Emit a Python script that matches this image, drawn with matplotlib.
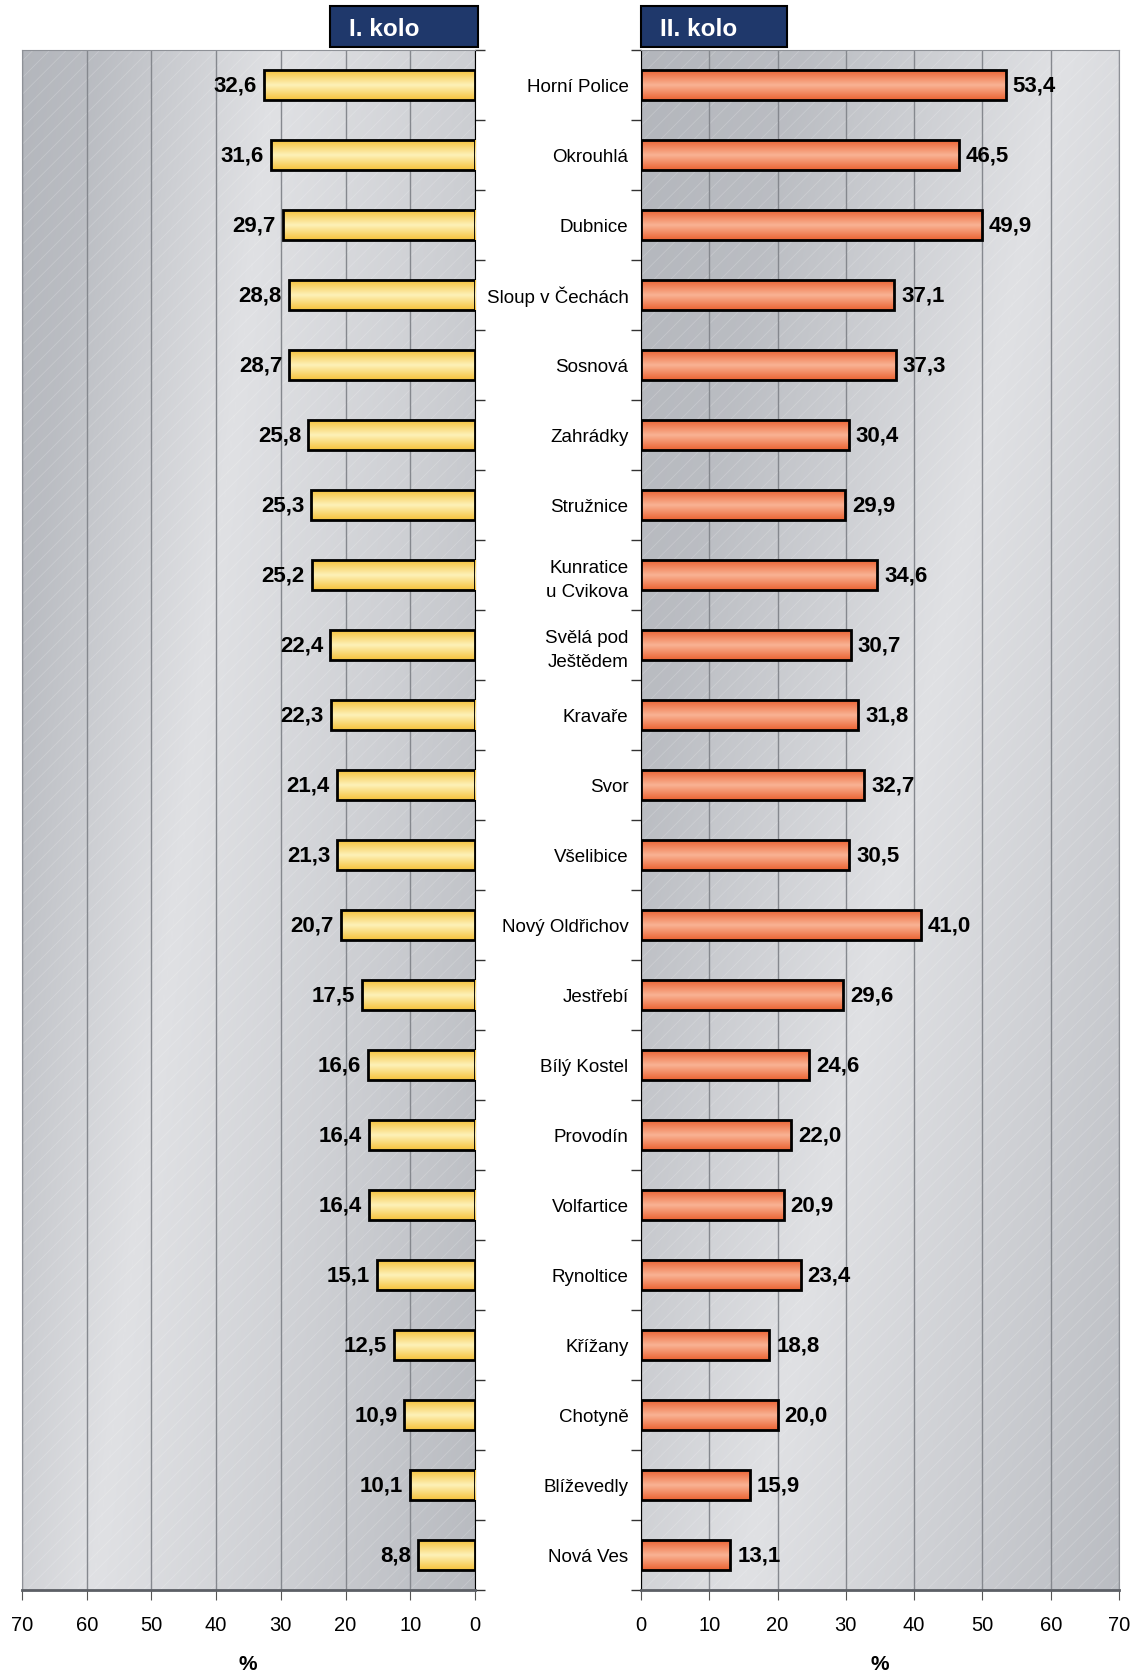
import numpy as np
import matplotlib
matplotlib.use('Agg')
import matplotlib.pyplot as plt
from matplotlib.patches import Rectangle
from matplotlib.colors import LinearSegmentedColormap

plt.rcParams['font.family'] = ['Liberation Sans', 'DejaVu Sans']
plt.rcParams['hatch.linewidth'] = 0.6

# data
obce = ['Horní Police', 'Okrouhlá', 'Dubnice', 'Sloup v Čechách', 'Sosnová',
        'Zahrádky', 'Stružnice', 'Kunratice\nu Cvikova', 'Svělá pod\nJeštědem',
        'Kravaře', 'Svor', 'Všelibice', 'Nový Oldřichov', 'Jestřebí',
        'Bílý Kostel', 'Provodín', 'Volfartice', 'Rynoltice', 'Křížany',
        'Chotyně', 'Blíževedly', 'Nová Ves']
kolo1 = [32.6, 31.6, 29.7, 28.8, 28.7, 25.8, 25.3, 25.2, 22.4, 22.3, 21.4,
         21.3, 20.7, 17.5, 16.6, 16.4, 16.4, 15.1, 12.5, 10.9, 10.1, 8.8]
kolo2 = [53.4, 46.5, 49.9, 37.1, 37.3, 30.4, 29.9, 34.6, 30.7, 31.8, 32.7,
         30.5, 41.0, 29.6, 24.6, 22.0, 20.9, 23.4, 18.8, 20.0, 15.9, 13.1]
osa_x = [0, 10, 20, 30, 40, 50, 60, 70]
nadpisy = ['I. kolo', 'II. kolo']

W, H = 1138, 1676
fig = plt.figure(figsize=(W / 100, H / 100), dpi=100)


def box(x0, y0, x1, y1):
    return [x0 / W, 1 - y1 / H, (x1 - x0) / W, (y1 - y0) / H]


ax1 = fig.add_axes(box(22, 50, 475, 1590))
ax2 = fig.add_axes(box(641, 50, 1119, 1590))

seda = LinearSegmentedColormap.from_list('seda', ['#b1b4ba', '#e0e1e4'])


def pozadi(ax, a, tt, vv):
    bb = ax.get_position()
    w = bb.width * W
    h = bb.height * H
    xx, yy = np.meshgrid(np.linspace(0, w, 300), np.linspace(0, h, 600))
    t = (xx + a * yy) / (w + a * h)
    v = np.interp(t, tt, vv)
    ax.imshow(v, cmap=seda, vmin=0, vmax=1, aspect='auto', extent=(0, 1, 0, 1),
              transform=ax.transAxes, zorder=0, interpolation='bilinear')
    ax.add_patch(Rectangle((0, 0), 1, 1, transform=ax.transAxes, facecolor='none',
                           edgecolor=(1, 1, 1, 0.2), hatch='//', lw=0, zorder=0.2))


def sloupce(ax, vals, c_okraj, c_stred, strana):
    cm = LinearSegmentedColormap.from_list('b', [c_okraj, c_stred, c_okraj])
    grad = np.linspace(0, 1, 60).reshape(-1, 1)
    h = 0.42
    for i, v in enumerate(vals):
        ax.imshow(grad, cmap=cm, aspect='auto', extent=(0, v, i + h / 2, i - h / 2),
                  zorder=3, interpolation='bilinear')
        txt = f'{v:.1f}'.replace('.', ',')
        ax.annotate(txt, xy=(v, i), xytext=(5 * strana, -1), textcoords='offset points',
                    ha='left' if strana > 0 else 'right', va='center',
                    fontsize=16, fontweight='bold', zorder=5)
    ax.barh(range(len(vals)), vals, height=h, facecolor='none',
            edgecolor='black', lw=2, zorder=4)


pozadi(ax1, 0.12, [0, 0.12, 0.4, 0.7, 1], [0.05, 0.2, 1, 0.6, 0.15])
pozadi(ax2, 0.21, [0, 0.2, 0.53, 0.8, 1], [0.05, 0.2, 1, 0.55, 0.2])

sloupce(ax1, kolo1, '#f6c23c', '#fdf1b8', -1)
sloupce(ax2, kolo2, '#ec6434', '#f9b394', 1)

n = len(obce)
for ax in (ax1, ax2):
    ax.set_ylim(n - 0.5, -0.5)
    ax.set_xticks(osa_x)
    ax.set_yticks(np.arange(n))
    ax.set_yticks(np.arange(-0.5, n, 1), minor=True)
    ax.tick_params(axis='y', which='major', length=0)
    ax.tick_params(axis='y', which='minor', length=7, color='#333333', width=1)
    ax.tick_params(axis='x', labelsize=14.5, pad=12, length=7, color='#555555')
    ax.xaxis.grid(True, color='#85888e', lw=1)
    ax.set_axisbelow(True)
    ax.spines['bottom'].set_color('#5c5f65')
    ax.spines['bottom'].set_linewidth(2)

ax1.set_xlim(70, 0)
ax2.set_xlim(0, 70)

ax1.yaxis.set_ticks_position('right')
ax1.set_yticklabels([])
ax2.set_yticklabels(obce, fontsize=13.5)
ax2.tick_params(axis='y', which='major', pad=9)
for lbl in ax2.get_yticklabels():
    lbl.set_linespacing(1.5)

for s in ('top', 'left'):
    ax1.spines[s].set_color('#8e9197')
ax1.spines['right'].set_color('black')
for s in ('top', 'right'):
    ax2.spines[s].set_color('#8e9197')
ax2.spines['left'].set_color('black')

# popisky osy
fig.text(248 / W, 1 - 1664 / H, '%', ha='center', va='center', fontsize=15, fontweight='bold')
fig.text(880 / W, 1 - 1664 / H, '%', ha='center', va='center', fontsize=15, fontweight='bold')

# hlavicky
for (x0, x1), nadpis in zip([(330, 478), (641, 787)], nadpisy):
    b = box(x0, 6, x1, 47)
    fig.patches.append(Rectangle((b[0], b[1]), b[2], b[3], transform=fig.transFigure,
                                 facecolor='#1f386b', edgecolor='black', lw=1.5))
    fig.text((x0 + 19) / W, 1 - 30 / H, nadpis, color='white', fontsize=17.5,
             fontweight='bold', ha='left', va='center')

fig.savefig('out.png', dpi=100)
